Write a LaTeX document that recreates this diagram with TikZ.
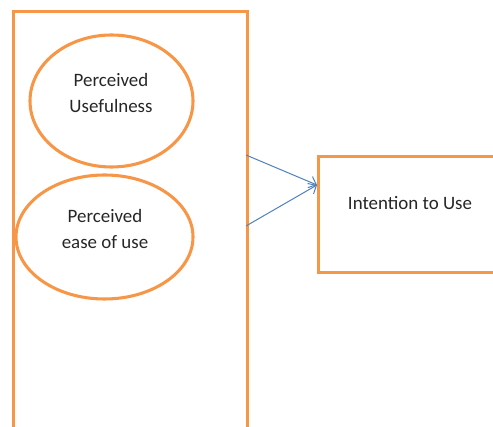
\documentclass[tikz,border=0pt]{standalone}
\usepackage{fontspec}
\setmainfont{Carlito}
\usetikzlibrary{shapes.geometric,arrows.meta}
\definecolor{orng}{HTML}{F79646}
\definecolor{arrblue}{HTML}{4F81BD}
\tikzset{
  obox/.style={draw=orng,line width=2.3pt,rectangle,inner sep=0pt},
  oell/.style={draw=orng,line width=2.3pt,ellipse,inner sep=0pt},
  lbl/.style={font=\fontsize{14.2pt}{19pt}\selectfont,align=center,text=black!85,inner sep=0pt},
  conn/.style={draw=arrblue,line width=0.75pt,-{Straight Barb[length=5pt,width=9pt]}}
}
\begin{document}
\begin{tikzpicture}[x=0.75pt,y=-0.75pt]
\useasboundingbox (0,0) rectangle (493,427);
\begin{scope}
\clip (0,0) rectangle (493,427);
\node[obox,minimum width=234*0.75pt,minimum height=430*0.75pt,anchor=north west] (outer) at (12,10) {};
\node[obox,minimum width=190*0.75pt,minimum height=116*0.75pt,anchor=north west] (itu) at (317,155) {};
\end{scope}
\node[oell,minimum width=163*0.75pt,minimum height=132*0.75pt] (pu) at (111.5,101) {};
\node[oell,minimum width=177*0.75pt,minimum height=124*0.75pt] (peou) at (104.5,237) {};
\node[lbl] (pul) at (111,93) {Perceived\\Usefulness};
\node[lbl] (peoul) at (105,229) {Perceived\\ease of use};
\node[lbl] (itul) at (410,203) {Intention to Use};
\coordinate (s1) at (246,155);
\coordinate (s2) at (246,226);
\coordinate (t) at (317,185);
\draw[conn] (s1) -- (t);
\draw[conn] (s2) -- (t);
\end{tikzpicture}
\end{document}
